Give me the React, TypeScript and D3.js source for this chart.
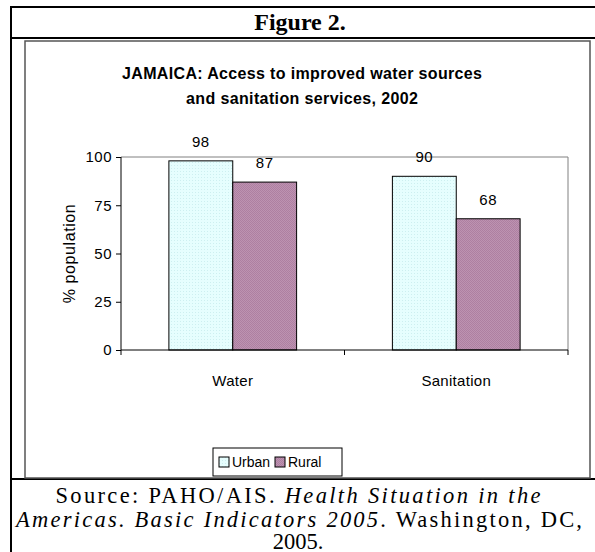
import * as React from "react";
import { useEffect, useRef } from "react";
import { select, scaleBand, scaleLinear, axisLeft } from "d3";

const categories = ["Water", "Sanitation"];
const seriesNames = ["Urban", "Rural"];
const urbanValues = [98, 90];
const ruralValues = [87, 68];
const yTicks = [0, 25, 50, 75, 100];

const seriesValues = [urbanValues, ruralValues];
const fills = ["url(#urbanPat)", "url(#ruralPat)"];

const W = 595;
const H = 552;
const plot = { left: 121, right: 568, top: 157, bottom: 350 };

function App() {
  const yAxisRef = useRef<SVGGElement>(null);

  const x0 = scaleBand<string>()
    .domain(categories)
    .range([plot.left, plot.right]);
  // excel style gap width 150%
  const groupW = x0.bandwidth() / 1.75;
  const x1 = scaleBand<string>().domain(seriesNames).range([0, groupW]);
  const y = scaleLinear().domain([0, 100]).range([plot.bottom, plot.top]);

  useEffect(() => {
    const g = select(yAxisRef.current);
    const ax: any = axisLeft(y).tickValues(yTicks).tickSize(5).tickPadding(4);
    g.call(ax);
    g.select(".domain").remove();
    g.selectAll(".tick line").attr("stroke", "#000");
    g.selectAll(".tick text")
      .attr("font-family", "Liberation Sans, Arial, sans-serif")
      .attr("font-size", 15)
      .attr("letter-spacing", 0.5)
      .attr("fill", "#000");
  }, []);

  const sans = "Liberation Sans, Arial, sans-serif";
  const serif = "Liberation Serif, Times New Roman, serif";

  return (
    <svg
      width={W}
      height={H}
      style={{ position: "absolute", left: 0, top: 0, background: "#fff" }}
    >
      <defs>
        <pattern id="urbanPat" width="3" height="3" patternUnits="userSpaceOnUse">
          <rect width="3" height="3" fill="#E6FEFE" />
          <rect width="1" height="1" fill="#CDEFF0" />
        </pattern>
        <pattern id="ruralPat" width="2" height="2" patternUnits="userSpaceOnUse">
          <rect width="2" height="2" fill="#BD93B1" />
          <rect width="1" height="1" fill="#AE7FA1" />
          <rect x="1" y="1" width="1" height="1" fill="#AE7FA1" />
        </pattern>
      </defs>

      {/* table frame */}
      <line x1={11} y1={6} x2={11} y2={H} stroke="#000" strokeWidth={2} />
      <line x1={10} y1={7} x2={W} y2={7} stroke="#000" strokeWidth={2} />
      <line x1={10} y1={38} x2={W} y2={38} stroke="#000" strokeWidth={2} />
      <line x1={10} y1={479} x2={W} y2={479} stroke="#000" strokeWidth={2} />
      <text x={300} y={30} textAnchor="middle" fontFamily={serif} fontWeight="bold" fontSize={24}>
        Figure 2.
      </text>

      {/* chart area frame */}
      <rect x={25} y={41} width={565} height={437} fill="none" stroke="#555" strokeWidth={1.5} />

      <text x={302} y={79} textAnchor="middle" fontFamily={sans} fontWeight="bold" fontSize={16} textLength={360} lengthAdjust="spacing">
        JAMAICA: Access to improved water sources
      </text>
      <text x={302} y={104} textAnchor="middle" fontFamily={sans} fontWeight="bold" fontSize={16} textLength={232} lengthAdjust="spacing">
        and sanitation services, 2002
      </text>

      {/* plot area border */}
      <line x1={plot.left} y1={plot.top} x2={plot.right} y2={plot.top} stroke="#808080" />
      <line x1={plot.right} y1={plot.top} x2={plot.right} y2={plot.bottom} stroke="#808080" />

      {categories.map((c, ci) => {
        const gx = (x0(c) as number) + (x0.bandwidth() - groupW) / 2;
        return seriesNames.map((s, si) => {
          const v = seriesValues[si][ci];
          const bx = gx + (x1(s) as number);
          return (
            <g key={c + s}>
              <rect
                x={bx}
                y={y(v)}
                width={x1.bandwidth()}
                height={plot.bottom - y(v)}
                fill={fills[si]}
                stroke="#000"
              />
              <text
                x={bx + x1.bandwidth() / 2}
                y={y(v) - 14}
                textAnchor="middle"
                fontFamily={sans}
                fontSize={15}
                letterSpacing={0.5}
              >
                {v}
              </text>
            </g>
          );
        });
      })}

      {/* axes */}
      <line x1={plot.left} y1={plot.top} x2={plot.left} y2={plot.bottom} stroke="#000" />
      <line x1={plot.left} y1={plot.bottom} x2={plot.right} y2={plot.bottom} stroke="#000" />
      {[...categories.map((c) => x0(c) as number), plot.right].map((tx, i) => (
        <line key={i} x1={tx} y1={plot.bottom} x2={tx} y2={plot.bottom + 5} stroke="#000" />
      ))}
      {categories.map((c) => (
        <text
          key={c}
          x={(x0(c) as number) + x0.bandwidth() / 2}
          y={plot.bottom + 36}
          textAnchor="middle"
          fontFamily={sans}
          fontSize={15}
          letterSpacing={0.3}
        >
          {c}
        </text>
      ))}
      <g ref={yAxisRef} transform={`translate(${plot.left},0)`} />
      <text
        transform={`translate(75,${(plot.top + plot.bottom) / 2}) rotate(-90)`}
        textAnchor="middle"
        fontFamily={sans}
        fontSize={16}
        letterSpacing={0.6}
      >
        % population
      </text>

      {/* legend */}
      <rect x={213} y={448} width={129} height={28} fill="#fff" stroke="#000" />
      {seriesNames.map((s, i) => (
        <g key={s} transform={`translate(219,457)`}>
          <g transform={`translate(${i * 56},0)`}>
            <rect width={10} height={10} fill={fills[i]} stroke="#000" />
            <text x={13} y={10} fontFamily={sans} fontSize={14}>
              {s}
            </text>
          </g>
        </g>
      ))}

      {/* source */}
      <text x={298} y={503} textAnchor="middle" fontFamily={serif} fontSize={22.5} textLength={485} lengthAdjust="spacing">
        Source: PAHO/AIS. <tspan fontStyle="italic">Health Situation in the</tspan>
      </text>
      <text x={299} y={527} textAnchor="middle" fontFamily={serif} fontSize={22.5} textLength={566} lengthAdjust="spacing">
        <tspan fontStyle="italic">Americas. Basic Indicators 2005</tspan>. Washington, DC,
      </text>
      <text x={298} y={549} textAnchor="middle" fontFamily={serif} fontSize={22.5}>
        2005.
      </text>
    </svg>
  );
}

export default App;
